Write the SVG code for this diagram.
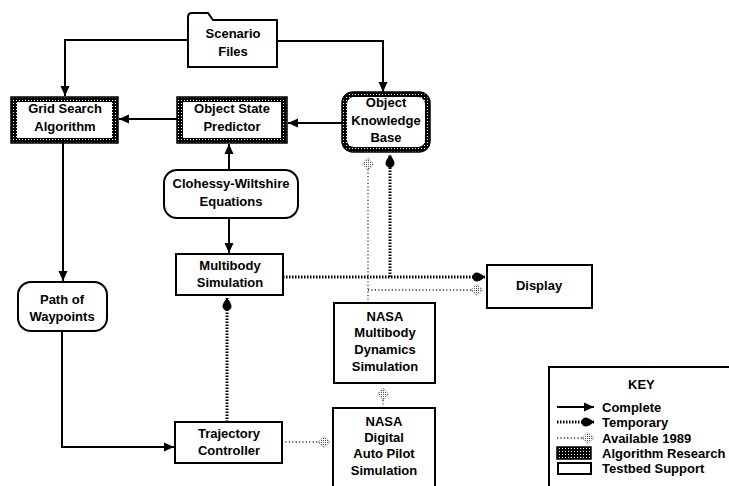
<svg xmlns="http://www.w3.org/2000/svg" width="729" height="486" viewBox="0 0 729 486">
<style>
text{font-family:"Liberation Sans",Arial,sans-serif;font-weight:bold;font-size:13px;fill:#000;text-anchor:middle}
.key text{text-anchor:start}
.box{fill:#fff;stroke:#000;stroke-width:2}
.ht{fill:url(#ht);stroke:#000;stroke-width:1.5}
.inner{fill:#fff;stroke:none}
.comp{fill:none;stroke:#000;stroke-width:2}
.temp{fill:none;stroke:#000;stroke-width:3;stroke-dasharray:1.5 1.5}
.avail{fill:none;stroke:#333;stroke-width:1.3;stroke-dasharray:1.2 2.2}
</style>
<defs>
<pattern id="ht" width="3" height="3" patternUnits="userSpaceOnUse">
<rect width="3" height="3" fill="#000"/><rect x="1" y="1" width="1" height="1" fill="#fff"/>
</pattern>
<pattern id="sp" width="2" height="2" patternUnits="userSpaceOnUse">
<rect width="2" height="2" fill="#fff"/><rect width="1" height="1" fill="#555"/>
</pattern>
<marker id="mc" markerUnits="userSpaceOnUse" markerWidth="11" markerHeight="10" refX="10" refY="5" orient="auto">
<path d="M0,0.5 L10,5 L0,9.5 Z" fill="#000"/>
</marker>
<marker id="mt" markerUnits="userSpaceOnUse" markerWidth="14" markerHeight="12" refX="13" refY="6" orient="auto">
<path d="M0,6 C2,0 6,0 13,6 C6,12 2,12 0,6 Z" fill="#000"/>
</marker>
<marker id="ma" markerUnits="userSpaceOnUse" markerWidth="14" markerHeight="12" refX="13" refY="6" orient="auto">
<path d="M1,6 L7,0.5 L13,6 L7,11.5 Z" fill="url(#sp)" stroke="#666" stroke-width="0.8" stroke-dasharray="1 1"/>
</marker>
</defs>

<g id="connectors">
<path class="comp" d="M188,40 H65 V96" marker-end="url(#mc)"/>
<path class="comp" d="M277,41 H383 V92" marker-end="url(#mc)"/>
<path class="comp" d="M177,119 H119" marker-end="url(#mc)"/>
<path class="comp" d="M342,123 H288" marker-end="url(#mc)"/>
<path class="comp" d="M229,170 V144" marker-end="url(#mc)"/>
<path class="comp" d="M229,218 V253" marker-end="url(#mc)"/>
<path class="comp" d="M63,143 V281" marker-end="url(#mc)"/>
<path class="comp" d="M62,331 V447 H174" marker-end="url(#mc)"/>
<path class="temp" d="M227,422 V298" marker-end="url(#mt)"/>
<path class="temp" d="M283,277 H485" marker-end="url(#mt)"/>
<path class="temp" d="M390,277 V155" marker-end="url(#mt)"/>
<path class="avail" d="M368,303 V158" marker-end="url(#ma)"/>
<path class="avail" d="M368,290 H483" marker-end="url(#ma)"/>
<path class="avail" d="M383,408 V388" marker-end="url(#ma)"/>
<path class="avail" d="M282,442 H330" marker-end="url(#ma)"/>
</g>

<g id="scenario-files">
<path class="box" d="M188,67 V17 Q188,13 192,13 H208 L213,20 H277 V67 Z"/>
<text x="233" y="38">Scenario</text>
<text x="233" y="56">Files</text>
</g>

<g id="grid-search">
<rect class="ht" x="11" y="97" width="107" height="46"/>
<rect class="inner" x="17" y="102" width="95" height="36"/>
<text x="65" y="113">Grid Search</text>
<text x="65" y="131">Algorithm</text>
</g>

<g id="object-state-predictor">
<rect class="ht" x="177" y="97" width="110" height="46"/>
<rect class="inner" x="183" y="102" width="98" height="36"/>
<text x="232" y="113">Object State</text>
<text x="232" y="131">Predictor</text>
</g>

<g id="object-knowledge-base">
<rect class="ht" x="342" y="92" width="88" height="60" rx="11"/>
<rect class="inner" x="347" y="97" width="78" height="50" rx="7"/>
<text x="386" y="107">Object</text>
<text x="386" y="125">Knowledge</text>
<text x="386" y="142">Base</text>
</g>

<g id="clohessy-wiltshire">
<rect class="box" x="164" y="170" width="134" height="48" rx="13"/>
<text x="231" y="188">Clohessy-Wiltshire</text>
<text x="231" y="206">Equations</text>
</g>

<g id="multibody-simulation">
<rect class="box" x="176" y="254" width="107" height="41"/>
<text x="230" y="270">Multibody</text>
<text x="230" y="287">Simulation</text>
</g>

<g id="path-of-waypoints">
<rect class="box" x="18" y="282" width="89" height="49" rx="13"/>
<text x="62" y="304">Path of</text>
<text x="62" y="321">Waypoints</text>
</g>

<g id="trajectory-controller">
<rect class="box" x="175" y="422" width="107" height="41"/>
<text x="229" y="438">Trajectory</text>
<text x="229" y="455">Controller</text>
</g>

<g id="display">
<rect class="box" x="487" y="265" width="105" height="43"/>
<text x="539" y="290">Display</text>
</g>

<g id="nasa-multibody">
<rect class="box" x="334" y="303" width="101" height="80"/>
<text x="385" y="321">NASA</text>
<text x="385" y="337">Multibody</text>
<text x="385" y="354">Dynamics</text>
<text x="385" y="371">Simulation</text>
</g>

<g id="nasa-autopilot">
<rect class="box" x="333" y="408" width="102" height="90"/>
<text x="384" y="426">NASA</text>
<text x="384" y="442">Digital</text>
<text x="384" y="458">Auto Pilot</text>
<text x="384" y="475">Simulation</text>
</g>

<g id="key" class="key">
<rect class="box" x="549" y="367" width="195" height="130"/>
<text x="628" y="389">KEY</text>
<path class="comp" d="M557,407 H594" marker-end="url(#mc)"/>
<path class="temp" d="M557,422 H594" marker-end="url(#mt)"/>
<path class="avail" d="M557,438 H594" marker-end="url(#ma)"/>
<rect class="ht" x="557" y="447" width="34" height="12"/>
<rect class="box" x="558" y="463" width="33" height="11"/>
<text x="602" y="412">Complete</text>
<text x="602" y="427">Temporary</text>
<text x="602" y="443">Available 1989</text>
<text x="602" y="458">Algorithm Research</text>
<text x="602" y="473">Testbed Support</text>
</g>
</svg>
